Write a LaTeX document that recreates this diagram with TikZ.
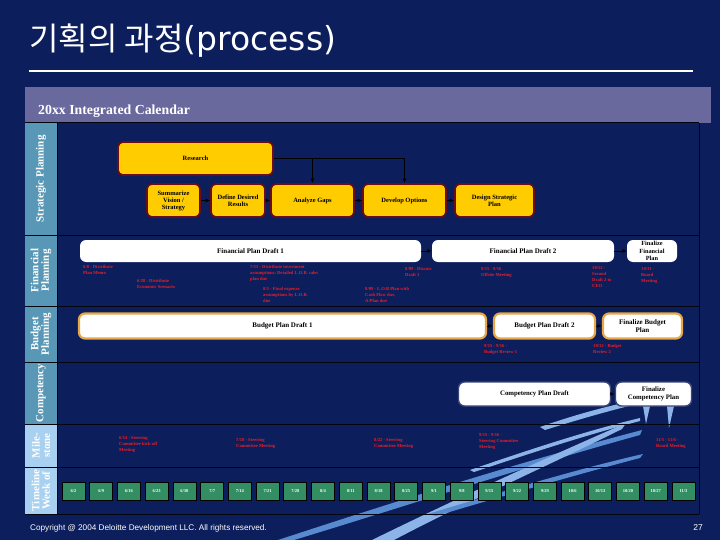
\documentclass[tikz,border=0pt]{standalone}
\usepackage{fontspec}
\setmainfont{Liberation Serif}
\newfontfamily\kr{Noto Sans CJK KR}
\newfontfamily\sansf{Liberation Sans}
\newfontfamily\dvs{DejaVu Sans}
\usetikzlibrary{arrows.meta}
\definecolor{navy}{RGB}{12,30,92}
\definecolor{hdr}{RGB}{106,105,158}
\definecolor{colA}{RGB}{88,152,182}
\definecolor{colB}{RGB}{168,208,240}
\definecolor{yel}{RGB}{255,204,0}
\definecolor{dred}{RGB}{110,12,20}
\definecolor{tanb}{RGB}{232,168,72}
\definecolor{cbord}{RGB}{60,70,120}
\definecolor{grn}{RGB}{52,142,100}
\definecolor{lred}{RGB}{235,30,40}
\definecolor{swa}{RGB}{88,138,208}
\definecolor{swb}{RGB}{140,180,232}
\begin{document}
\begin{tikzpicture}[x=1pt,y=-1pt,
  ybox/.style={draw=dred,line width=1.6pt,fill=yel,rounded corners=5pt,align=center,inner sep=1pt,
    font=\fontsize{6.5}{7}\selectfont\bfseries},
  wbox/.style={fill=white,rounded corners=6pt,align=center,inner sep=1pt,
    font=\fontsize{7}{7.5}\selectfont\bfseries},
  bbox/.style={draw=tanb,line width=2.2pt,fill=white,rounded corners=6pt,align=center,inner sep=1pt,
    font=\fontsize{7}{7.5}\selectfont\bfseries},
  cbox/.style={draw=cbord,line width=1.4pt,fill=white,rounded corners=6pt,align=center,inner sep=1pt,
    font=\fontsize{6.8}{7.5}\selectfont\bfseries},
  rl/.style={anchor=north west,inner sep=0pt,align=left,text=lred,
    font=\fontsize{4.6}{6}\selectfont\bfseries},
  rowlbl/.style={rotate=90,align=center,text=white,inner sep=0pt,
    font=\fontsize{11}{10.5}\selectfont\bfseries},
  tbox/.style={draw=black,line width=0.8pt,fill=grn,minimum width=23pt,minimum height=18pt,
    inner sep=0pt,text=white,font=\fontsize{4.5}{5}\selectfont\bfseries},
  arr/.style={-{Latex[length=4.5pt,width=4pt]},line width=0.9pt,draw=black},
  sep/.style={line width=1pt,black!85!navy}]
\useasboundingbox (0,0) rectangle (720,540);
\fill[navy] (0,0) rectangle (720,540);

% title
\node[anchor=base west,inner sep=0pt,text=white] (title) at (29,51) {{\kr\fontsize{32}{34}\selectfont 기획의 과정}{\dvs\fontsize{33}{34}\selectfont(process)}};
\draw[white,line width=2.6pt] (29,71) -- (693,71);

% header band
\fill[hdr] (25,87) rectangle (711,123);
\node[anchor=base west,inner sep=0pt,text=white,font=\fontsize{13.8}{15}\selectfont\bfseries] (hdrtxt) at (38,115) {20xx Integrated Calendar};

% swoosh decoration
\fill[swa] (278,540) .. controls (400,500) and (520,462) .. (642,430) -- (640,435) .. controls (520,468) and (400,508) .. (294,540) -- cycle;
\fill[swb] (372,540) .. controls (470,492) and (560,452) .. (626,423) -- (622,429) .. controls (560,460) and (470,500) .. (394,540) -- cycle;
\fill[swa] (428,514) .. controls (520,486) and (590,466) .. (643,454) -- (640,458) .. controls (590,471) and (520,491) .. (436,516) -- cycle;
\fill[swb] (540,427) .. controls (580,413) and (612,405) .. (642,399) -- (641,403) .. controls (612,410) and (580,419) .. (545,430) -- cycle;
\fill[swb] (470,470) .. controls (540,446) and (590,430) .. (640,418) -- (640,421) .. controls (590,434) and (540,450) .. (474,472) -- cycle;
\fill[swb] (643,406) -- (650,406) -- (646,424) -- cycle;
\fill[swb] (667,406) -- (674,406) -- (669,428) -- cycle;

% left label column
\fill[colA] (25,123) rectangle (57,424);
\fill[colB] (25,424) rectangle (57,514);
% table lines
\draw[sep] (25,123) -- (699,123);
\draw[sep] (25,235) -- (699,235);
\draw[sep] (25,306) -- (699,306);
\draw[sep] (25,362) -- (699,362);
\draw[sep] (25,424) -- (699,424);
\draw[sep] (25,467) -- (699,467);
\draw[sep] (25,514) -- (699,514);
\draw[sep] (57,123) -- (57,514);
\draw[sep] (699,123) -- (699,514);

\node[rowlbl] (lstr) at (41,179) {Strategic Planning};
\node[rowlbl] (lfin) at (41,270.5) {Financial\\Planning};
\node[rowlbl] (lbud) at (41,334) {Budget\\Planning};
\node[rowlbl] (lcom) at (41,393) {Competency};
\node[rowlbl] (lmil) at (41,445.5) {Mile-\\stone};
\node[rowlbl] (ltim) at (41,490.5) {Timeline\\Week of};

% strategic planning
\node[ybox,minimum width=155pt,minimum height=33pt] (res) at (195.5,158.5) {Research};
\node[ybox,minimum width=53pt,minimum height=33pt] (sum) at (173.5,200.5) {Summarize\\Vision /\\Strategy};
\node[ybox,minimum width=54pt,minimum height=33pt] (def) at (238,200.5) {Define Desired\\Results};
\node[ybox,minimum width=83pt,minimum height=33pt] (gap) at (312.5,200.5) {Analyze Gaps};
\node[ybox,minimum width=83pt,minimum height=33pt] (dev) at (404.5,200.5) {Develop Options};
\node[ybox,minimum width=79pt,minimum height=33pt] (dsp) at (494.5,200.5) {Design Strategic\\Plan};
\draw[arr] (sum) -- (def);
\draw[arr] (def) -- (gap);
\draw[arr] (gap) -- (dev);
\draw[arr] (dev) -- (dsp);
\draw[arr] (res.east) -| (dev.north);
\draw[arr] (res.east -| gap.north) -- (gap.north);

% financial planning
\node[wbox,minimum width=341pt,minimum height=22pt] (fp1) at (250.5,251) {Financial Plan Draft 1};
\node[wbox,minimum width=182pt,minimum height=22pt] (fp2) at (523,251) {Financial Plan Draft 2};
\node[wbox,minimum width=50pt,minimum height=22pt,font=\fontsize{6.3}{7.6}\selectfont\bfseries] (ffp) at (652,251) {Finalize\\Financial\\Plan};
\draw[arr] (fp1) -- (fp2);
\draw[arr] (fp2) -- (ffp);
\node[rl] (f1) at (83,265) {6/8 - Distribute\\Plan Memo};
\node[rl] (f2) at (137,279) {6/28 - Distribute\\Economic Scenario};
\node[rl] (f3) at (250,265) {7/15 - Distribute investment\\assumptions; Detailed L.O.B. sales\\plan due};
\node[rl] (f4) at (263,287) {8/1 - Final expense\\assumptions by L.O.B.\\due};
\node[rl] (f5) at (405,267) {8/09 - Discuss\\Draft 1};
\node[rl] (f6) at (365,287) {8/09 - L.O.B Plan with\\Cash Flow due,\\A/Plan due};
\node[rl] (f7) at (481,267) {9/15 - 9/16\\Offsite Meeting};
\node[rl] (f8) at (592,266) {10/12 -\\Second\\Draft 2 to\\CEO};
\node[rl] (f9) at (641,267) {10/31 -\\Board\\Meeting};

% budget planning
\node[bbox,minimum width=407pt,minimum height=25pt] (bp1) at (282.5,326) {Budget Plan Draft 1};
\node[bbox,minimum width=101pt,minimum height=25pt] (bp2) at (544.5,326) {Budget Plan Draft 2};
\node[bbox,minimum width=79pt,minimum height=25pt] (fbp) at (642.5,326) {Finalize Budget\\Plan};
\draw[arr] (bp1) -- (bp2);
\draw[arr] (bp2) -- (fbp);
\node[rl] (b1) at (484,344) {9/15 - 9/16 -\\Budget Review 1};
\node[rl] (b2) at (593,344) {10/12 - Budget\\Review 2};

% competency
\node[cbox,minimum width=152pt,minimum height=24pt] (cp) at (534.5,394) {Competency Plan Draft};
\node[cbox,minimum width=76pt,minimum height=24pt] (fcp) at (653.5,394) {Finalize\\Competency Plan};
\draw[arr] (cp) -- (fcp);

% milestones
\node[rl] (m1) at (119,436) {6/14 - Steering\\Committee kick-off\\Meeting};
\node[rl] (m2) at (236,438) {7/18 - Steering\\Committee Meeting};
\node[rl] (m3) at (374,438) {8/22 - Steering\\Committee Meeting};
\node[rl] (m4) at (479,433) {9/15 - 9/16 -\\Steering Committee\\Meeting};
\node[rl] (m5) at (656,438) {11/5 - 11/6 -\\Board Meeting};

% timeline
\foreach \d [count=\i from 0] in {6/2,6/9,6/16,6/23,6/30,7/7,7/14,7/21,7/28,8/4,8/11,8/18,8/25,9/1,9/8,9/15,9/22,9/29,10/6,10/13,10/20,10/27,11/3}
  \node[tbox] (t\i) at ({73.5+27.727*\i},491) {\d};

% footer
\node[anchor=base west,inner sep=0pt,text=white,font=\sansf\fontsize{8.2}{9}\selectfont] (copy) at (30,530) {Copyright @ 2004 Deloitte Development LLC. All rights reserved.};
\node[anchor=base east,inner sep=0pt,text=white,font=\sansf\fontsize{8.5}{9}\selectfont] (pg) at (703,530) {27};
\end{tikzpicture}
\end{document}
